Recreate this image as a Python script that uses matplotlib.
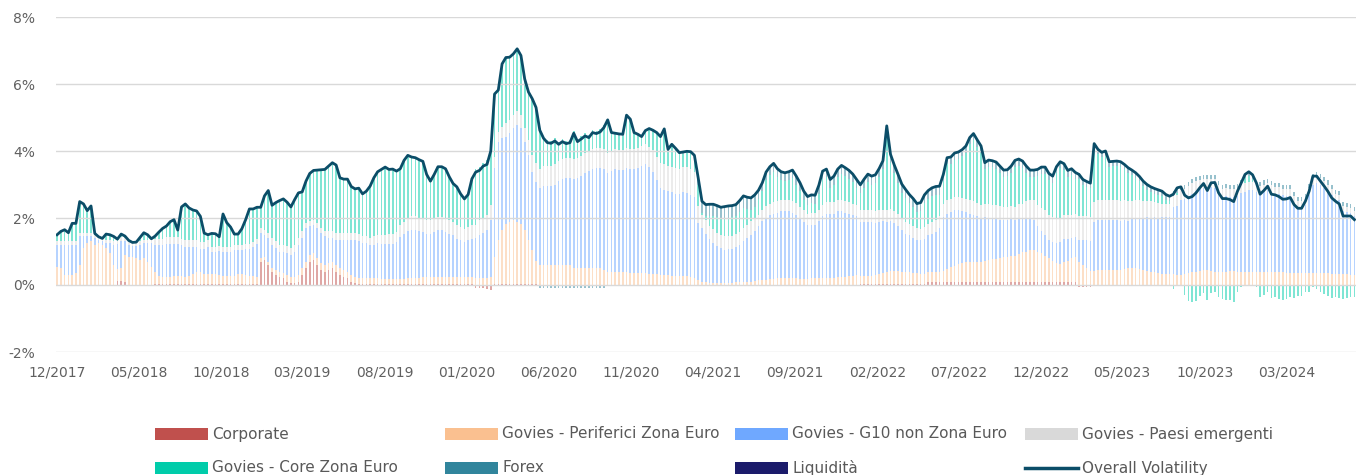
import matplotlib
matplotlib.use("Agg")
import matplotlib.pyplot as plt
import numpy as np
import pandas as pd
from matplotlib.patches import Rectangle
from matplotlib.lines import Line2D

# weekly observations, Dec 2017 -> Jul 2024
dates = pd.date_range("2017-12-01", periods=345, freq="7D")

overall = [
    1.50, 1.60, 1.65, 1.56, 1.84, 1.84, 2.49, 2.42, 2.22, 2.36, 1.54, 1.44, 1.39, 1.52, 1.50,
    1.45, 1.37, 1.52, 1.46, 1.33, 1.27, 1.28, 1.42, 1.56, 1.50, 1.38, 1.46, 1.58, 1.69, 1.76,
    1.89, 1.95, 1.64, 2.33, 2.42, 2.30, 2.24, 2.21, 2.05, 1.55, 1.50, 1.54, 1.53, 1.44, 2.12,
    1.86, 1.73, 1.52, 1.52, 1.68, 1.95, 2.27, 2.27, 2.32, 2.32, 2.66, 2.82, 2.38, 2.46, 2.52,
    2.57, 2.47, 2.33, 2.55, 2.75, 2.78, 3.10, 3.33, 3.42, 3.43, 3.44, 3.45, 3.55, 3.65, 3.58,
    3.20, 3.16, 3.16, 2.94, 2.87, 2.89, 2.72, 2.80, 2.95, 3.20, 3.38, 3.45, 3.52, 3.45, 3.46,
    3.40, 3.47, 3.72, 3.87, 3.82, 3.80, 3.74, 3.69, 3.30, 3.10, 3.30, 3.53, 3.53, 3.47, 3.23,
    3.03, 2.93, 2.72, 2.57, 2.70, 3.17, 3.37, 3.42, 3.55, 3.60, 4.00, 5.70, 5.82, 6.60, 6.79,
    6.80, 6.90, 7.05, 6.85, 6.15, 5.76, 5.56, 5.30, 4.62, 4.38, 4.25, 4.23, 4.30, 4.20, 4.28,
    4.22, 4.25, 4.53, 4.28, 4.36, 4.45, 4.40, 4.55, 4.52, 4.57, 4.70, 4.93, 4.55, 4.53, 4.51,
    4.50, 5.07, 4.95, 4.55, 4.50, 4.43, 4.61, 4.67, 4.62, 4.55, 4.43, 4.66, 4.05, 4.20, 4.08,
    3.95, 3.97, 3.99, 3.98, 3.87, 3.20, 2.50, 2.40, 2.41, 2.41, 2.37, 2.32, 2.34, 2.36, 2.37,
    2.40, 2.52, 2.66, 2.62, 2.60, 2.69, 2.83, 3.05, 3.37, 3.53, 3.63, 3.47, 3.38, 3.35, 3.38,
    3.43, 3.25, 3.05, 2.80, 2.64, 2.69, 2.68, 2.98, 3.40, 3.46, 3.15, 3.25, 3.46, 3.57, 3.50,
    3.42, 3.31, 3.15, 2.99, 3.16, 3.31, 3.25, 3.29, 3.48, 3.71, 4.75, 3.90, 3.58, 3.30, 3.01,
    2.85, 2.70, 2.58, 2.43, 2.46, 2.69, 2.82, 2.90, 2.94, 2.95, 3.30, 3.80, 3.82, 3.94, 3.97,
    4.04, 4.15, 4.40, 4.52, 4.33, 4.15, 3.65, 3.73, 3.71, 3.67, 3.55, 3.43, 3.44, 3.55, 3.72,
    3.76, 3.70, 3.55, 3.43, 3.43, 3.45, 3.52, 3.52, 3.33, 3.25, 3.53, 3.68, 3.62, 3.42, 3.47,
    3.36, 3.30, 3.15, 3.09, 3.04, 4.22, 4.05, 3.96, 4.00, 3.68, 3.69, 3.70, 3.68, 3.60, 3.50,
    3.43, 3.35, 3.24, 3.10, 3.00, 2.93, 2.88, 2.84, 2.80, 2.70, 2.65, 2.71, 2.90, 2.93, 2.68,
    2.60, 2.64, 2.75, 2.90, 3.03, 2.82, 3.05, 3.06, 2.75, 2.58, 2.58, 2.55, 2.49, 2.80, 3.05,
    3.30, 3.38, 3.29, 3.05, 2.71, 2.82, 2.95, 2.71, 2.69, 2.64, 2.56, 2.57, 2.61, 2.40, 2.29,
    2.29, 2.50, 2.80, 3.25, 3.25, 3.10, 2.95, 2.79, 2.60, 2.50, 2.42, 2.06, 2.06, 2.06, 1.95,
]

corporate = [
    0, 0, 0, 0, 0, 0, 0, 0, 0, 0, 0, 0, 0, 0, 0,
    0, 0.12, 0.12, 0.1, 0, 0, 0, 0, 0, 0, 0, 0.03, 0.03, 0.03, 0.03,
    0.03, 0.03, 0.03, 0.03, 0.03, 0.03, 0.03, 0.03, 0.03, 0.03, 0.03, 0.03, 0.03, 0.03, 0.03,
    0.03, 0.03, 0.03, 0.03, 0.03, 0.03, 0.03, 0.03, 0.03, 0.7, 0.75, 0.6, 0.4, 0.3, 0.25,
    0.2, 0.1, 0.05, 0.05, 0.1, 0.3, 0.5, 0.7, 0.75, 0.6, 0.45, 0.4, 0.45, 0.5, 0.4,
    0.3, 0.25, 0.2, 0.1, 0.05, 0.03, 0.03, 0.03, 0.03, 0.03, 0.03, 0.03, 0.03, 0.03, 0.03,
    0.03, 0.03, 0.03, 0.03, 0.03, 0.03, 0.03, 0.03, 0.03, 0.03, 0.03, 0.03, 0.03, 0.03, 0.03,
    0.03, 0.03, 0.03, 0.03, 0.03, 0.03, -0.08, -0.1, -0.1, -0.12, -0.15, 0.03, 0.03, 0.03, 0.03,
    0.03, 0.03, 0.03, 0.03, 0.03, 0.03, 0.03, 0.03, 0, 0, 0, 0, 0, 0, 0,
    0, 0, 0, 0, 0, 0, 0, 0, 0, 0, 0, 0, 0, 0, 0,
    0, 0, 0, 0, 0, 0, 0, 0, 0, 0, 0, 0, 0, 0, 0,
    0, 0, 0, 0, 0, 0, 0, 0, 0, 0, 0, 0, 0, 0, 0,
    0, 0, 0, 0, 0, 0, 0, 0, 0, 0, 0, 0, 0, 0, 0,
    0, 0, 0, 0, 0, 0, 0, 0, 0, 0, 0, 0, 0, 0, 0,
    0, 0, 0, 0.03, 0.03, 0.03, 0.03, 0.03, 0.03, 0.03, 0.03, 0.03, 0.03, 0.03, 0.03,
    0.03, 0.03, 0.03, 0.03, 0.03, 0.03, 0.08, 0.08, 0.08, 0.08, 0.08, 0.08, 0.08, 0.08, 0.08,
    0.08, 0.08, 0.08, 0.08, 0.08, 0.08, 0.08, 0.08, 0.08, 0.08, 0.08, 0.08, 0.08, 0.08, 0.08,
    0.08, 0.08, 0.08, 0.08, 0.08, 0.08, 0.08, 0.08, 0.08, 0.08, 0.08, 0.08, 0.08, 0.08, 0.08,
    0.08, -0.05, -0.05, -0.05, -0.05, 0, 0, 0, 0, 0, 0, 0, 0, 0, 0,
    0, 0, 0, 0, 0, 0, 0, 0, 0, 0, 0, 0, 0, 0, 0,
    0, 0, 0, 0, 0, 0, 0, 0, 0, 0, 0, 0, 0, 0, 0,
    0, 0, 0, 0, 0, 0, 0, 0, 0, 0, 0, 0, 0, 0, 0,
    0, 0, 0, 0, 0, 0, 0, 0, 0, 0, 0, 0, 0, 0, 0,
]

periferici = [
    0.55, 0.5, 0.3, 0.3, 0.3, 0.35, 0.6, 1.1, 1.25, 1.3, 1.2, 1.25, 1.2, 1.1, 0.95,
    0.6, 0.35, 0.4, 0.8, 0.85, 0.85, 0.8, 0.75, 0.8, 0.7, 0.55, 0.35, 0.25, 0.2, 0.2,
    0.2, 0.25, 0.25, 0.25, 0.2, 0.25, 0.3, 0.35, 0.35, 0.3, 0.3, 0.3, 0.3, 0.28, 0.25,
    0.25, 0.25, 0.25, 0.3, 0.3, 0.28, 0.25, 0.25, 0.2, 0.1, 0.1, 0.1, 0.1, 0.15, 0.15,
    0.15, 0.2, 0.2, 0.2, 0.2, 0.2, 0.2, 0.2, 0.2, 0.2, 0.2, 0.2, 0.2, 0.2, 0.2,
    0.2, 0.2, 0.2, 0.2, 0.2, 0.18, 0.18, 0.17, 0.17, 0.17, 0.17, 0.15, 0.15, 0.15, 0.15,
    0.15, 0.15, 0.15, 0.17, 0.17, 0.17, 0.17, 0.2, 0.2, 0.2, 0.2, 0.2, 0.2, 0.2, 0.2,
    0.2, 0.2, 0.2, 0.2, 0.2, 0.2, 0.2, 0.2, 0.2, 0.2, 0.25, 0.8, 1.3, 1.6, 1.8,
    1.85, 1.9, 1.85, 1.8, 1.6, 1.3, 1.0, 0.7, 0.6, 0.6, 0.6, 0.6, 0.6, 0.6, 0.6,
    0.6, 0.6, 0.5, 0.5, 0.5, 0.5, 0.5, 0.5, 0.5, 0.5, 0.45, 0.4, 0.4, 0.4, 0.38,
    0.38, 0.38, 0.36, 0.36, 0.35, 0.35, 0.35, 0.33, 0.33, 0.32, 0.3, 0.3, 0.3, 0.28, 0.28,
    0.27, 0.27, 0.26, 0.25, 0.22, 0.15, 0.1, 0.08, 0.06, 0.06, 0.05, 0.05, 0.05, 0.06, 0.06,
    0.08, 0.08, 0.1, 0.1, 0.1, 0.12, 0.15, 0.15, 0.15, 0.18, 0.18, 0.2, 0.2, 0.2, 0.2,
    0.2, 0.2, 0.18, 0.18, 0.18, 0.2, 0.2, 0.2, 0.2, 0.22, 0.22, 0.22, 0.25, 0.25, 0.25,
    0.28, 0.28, 0.3, 0.25, 0.25, 0.25, 0.25, 0.28, 0.3, 0.32, 0.35, 0.38, 0.38, 0.38, 0.36,
    0.35, 0.35, 0.32, 0.32, 0.3, 0.3, 0.3, 0.3, 0.3, 0.32, 0.35, 0.4, 0.45, 0.5, 0.55,
    0.58, 0.6, 0.6, 0.62, 0.62, 0.62, 0.65, 0.68, 0.7, 0.7, 0.72, 0.75, 0.75, 0.78, 0.8,
    0.85, 0.9, 0.92, 0.95, 0.95, 0.92, 0.88, 0.8, 0.72, 0.65, 0.58, 0.55, 0.6, 0.65, 0.72,
    0.75, 0.7, 0.6, 0.5, 0.42, 0.42, 0.45, 0.45, 0.45, 0.45, 0.45, 0.45, 0.45, 0.48, 0.5,
    0.52, 0.5, 0.48, 0.45, 0.42, 0.4, 0.38, 0.35, 0.33, 0.32, 0.32, 0.32, 0.3, 0.3, 0.32,
    0.35, 0.38, 0.4, 0.42, 0.45, 0.45, 0.42, 0.4, 0.38, 0.38, 0.4, 0.42, 0.42, 0.4, 0.4,
    0.38, 0.38, 0.38, 0.38, 0.4, 0.4, 0.4, 0.38, 0.38, 0.38, 0.38, 0.36, 0.36, 0.36, 0.35,
    0.35, 0.35, 0.35, 0.35, 0.35, 0.35, 0.35, 0.35, 0.33, 0.33, 0.33, 0.32, 0.32, 0.3, 0.3,
]

g10 = [
    0.65, 0.7, 0.9, 0.9, 0.9, 0.85, 0.85, 0.35, 0.2, 0.15, 0.2, 0.1, 0.1, 0.15, 0.3,
    0.6, 0.75, 0.8, 0.4, 0.35, 0.3, 0.35, 0.45, 0.45, 0.55, 0.7, 0.8, 0.9, 0.95, 1.0,
    1.0, 0.95, 0.95, 0.9, 0.9, 0.85, 0.8, 0.75, 0.7, 0.75, 0.8, 0.65, 0.65, 0.7, 0.7,
    0.7, 0.7, 0.75, 0.7, 0.7, 0.75, 0.8, 0.85, 1.0, 0.75, 0.65, 0.7, 0.7, 0.65, 0.6,
    0.65, 0.65, 0.65, 0.75, 0.9, 0.9, 1.0, 0.85, 0.85, 0.9, 0.9, 0.85, 0.75, 0.7, 0.75,
    0.85, 0.9, 0.95, 1.05, 1.1, 1.1, 1.05, 1.05, 1.0, 1.0, 1.05, 1.05, 1.05, 1.05, 1.05,
    1.1, 1.25, 1.35, 1.4, 1.45, 1.45, 1.4, 1.35, 1.3, 1.3, 1.35, 1.4, 1.4, 1.35, 1.3,
    1.25, 1.15, 1.1, 1.05, 1.1, 1.15, 1.2, 1.3, 1.35, 1.45, 1.7, 2.65, 2.95, 2.75, 2.6,
    2.65, 2.75, 2.9, 2.85, 2.65, 2.55, 2.35, 2.35, 2.3, 2.35, 2.35, 2.35, 2.4, 2.5, 2.55,
    2.6, 2.6, 2.65, 2.7, 2.75, 2.85, 2.9, 2.95, 3.0, 3.0, 3.0, 2.95, 3.0, 3.05, 3.05,
    3.05, 3.1, 3.1, 3.1, 3.15, 3.2, 3.25, 3.2, 3.05, 2.8, 2.6, 2.55, 2.5, 2.5, 2.45,
    2.45, 2.5, 2.5, 2.45, 2.4, 1.7, 1.6, 1.45, 1.3, 1.2, 1.1, 1.05, 1.0, 1.0, 1.0,
    1.05, 1.1, 1.2, 1.3, 1.4, 1.5, 1.6, 1.75, 1.85, 1.9, 1.95, 1.95, 2.0, 2.0, 2.0,
    1.95, 1.9, 1.8, 1.7, 1.6, 1.6, 1.6, 1.7, 1.85, 1.9, 1.9, 1.9, 1.95, 1.95, 1.9,
    1.85, 1.8, 1.75, 1.6, 1.6, 1.6, 1.6, 1.55, 1.55, 1.55, 1.5, 1.5, 1.45, 1.35, 1.25,
    1.15, 1.1, 1.05, 1.0, 1.0, 1.05, 1.1, 1.15, 1.2, 1.3, 1.6, 1.65, 1.65, 1.65, 1.6,
    1.55, 1.5, 1.45, 1.4, 1.35, 1.3, 1.3, 1.25, 1.2, 1.2, 1.15, 1.1, 1.1, 1.1, 1.05,
    1.05, 1.0, 1.0, 0.95, 0.9, 0.75, 0.65, 0.6, 0.55, 0.55, 0.6, 0.65, 0.7, 0.65, 0.6,
    0.6, 0.65, 0.75, 0.85, 0.9, 1.45, 1.5, 1.5, 1.5, 1.5, 1.5, 1.5, 1.45, 1.45, 1.4,
    1.45, 1.5, 1.5, 1.55, 1.6, 1.6, 1.65, 1.65, 1.7, 1.7, 1.7, 2.0, 2.05, 2.25, 2.25,
    2.3, 2.35, 2.4, 2.45, 2.45, 2.45, 2.5, 2.5, 2.35, 2.25, 2.25, 2.2, 2.2, 2.25, 2.35,
    2.4, 2.45, 2.45, 2.4, 2.35, 2.4, 2.45, 2.4, 2.35, 2.35, 2.3, 2.3, 2.3, 2.1, 1.95,
    1.95, 2.05, 2.35, 2.65, 2.7, 2.65, 2.55, 2.45, 2.35, 2.25, 2.2, 1.9, 1.85, 1.85, 1.75,
]

emergenti = [
    0.1, 0.1, 0.1, 0.1, 0.1, 0.1, 0.1, 0.1, 0.1, 0.1, 0.1, 0.1, 0.1, 0.1, 0.1,
    0.1, 0.1, 0.1, 0.1, 0.1, 0.1, 0.1, 0.1, 0.1, 0.1, 0.1, 0.2, 0.2, 0.2, 0.2,
    0.2, 0.2, 0.2, 0.2, 0.2, 0.2, 0.2, 0.2, 0.2, 0.2, 0.2, 0.15, 0.15, 0.15, 0.15,
    0.15, 0.15, 0.15, 0.15, 0.15, 0.15, 0.15, 0.15, 0.15, 0.15, 0.15, 0.15, 0.2, 0.2, 0.2,
    0.2, 0.2, 0.2, 0.2, 0.2, 0.2, 0.15, 0.15, 0.15, 0.15, 0.15, 0.15, 0.2, 0.2, 0.2,
    0.2, 0.2, 0.2, 0.2, 0.2, 0.2, 0.2, 0.2, 0.2, 0.25, 0.25, 0.25, 0.25, 0.3, 0.3,
    0.3, 0.35, 0.35, 0.4, 0.4, 0.4, 0.4, 0.4, 0.4, 0.4, 0.4, 0.4, 0.4, 0.4, 0.4,
    0.4, 0.4, 0.4, 0.4, 0.4, 0.4, 0.4, 0.45, 0.45, 0.45, 0.45, 0.35, 0.3, 0.35, 0.4,
    0.4, 0.4, 0.4, 0.4, 0.4, 0.45, 0.5, 0.55, 0.55, 0.6, 0.6, 0.6, 0.6, 0.6, 0.6,
    0.6, 0.6, 0.6, 0.6, 0.6, 0.6, 0.6, 0.6, 0.6, 0.6, 0.6, 0.6, 0.6, 0.6, 0.6,
    0.6, 0.6, 0.6, 0.6, 0.6, 0.6, 0.6, 0.6, 0.65, 0.7, 0.75, 0.75, 0.75, 0.75, 0.75,
    0.75, 0.75, 0.75, 0.75, 0.75, 0.5, 0.4, 0.4, 0.4, 0.4, 0.4, 0.4, 0.4, 0.4, 0.4,
    0.4, 0.4, 0.4, 0.4, 0.4, 0.35, 0.35, 0.35, 0.35, 0.35, 0.35, 0.35, 0.35, 0.35, 0.35,
    0.35, 0.35, 0.35, 0.35, 0.35, 0.35, 0.35, 0.35, 0.35, 0.35, 0.35, 0.35, 0.35, 0.35, 0.35,
    0.35, 0.35, 0.35, 0.35, 0.35, 0.35, 0.35, 0.35, 0.35, 0.35, 0.35, 0.35, 0.35, 0.35, 0.35,
    0.35, 0.35, 0.35, 0.35, 0.35, 0.35, 0.35, 0.35, 0.35, 0.35, 0.4, 0.4, 0.4, 0.4, 0.4,
    0.4, 0.4, 0.4, 0.4, 0.4, 0.4, 0.4, 0.4, 0.4, 0.4, 0.4, 0.4, 0.4, 0.4, 0.4,
    0.45, 0.45, 0.5, 0.55, 0.6, 0.65, 0.7, 0.75, 0.75, 0.75, 0.75, 0.7, 0.7, 0.7, 0.7,
    0.7, 0.7, 0.7, 0.7, 0.7, 0.6, 0.6, 0.6, 0.6, 0.6, 0.6, 0.6, 0.6, 0.6, 0.6,
    0.55, 0.55, 0.55, 0.5, 0.5, 0.5, 0.45, 0.45, 0.4, 0.4, 0.4, 0.35, 0.35, 0.3, 0.3,
    0.3, 0.3, 0.3, 0.25, 0.25, 0.25, 0.25, 0.25, 0.25, 0.25, 0.25, 0.25, 0.25, 0.25, 0.25,
    0.25, 0.25, 0.25, 0.2, 0.2, 0.2, 0.2, 0.2, 0.2, 0.2, 0.2, 0.2, 0.2, 0.2, 0.2,
    0.2, 0.2, 0.2, 0.2, 0.2, 0.2, 0.2, 0.2, 0.2, 0.15, 0.15, 0.15, 0.15, 0.15, 0.15,
]

core = [
    0.20, 0.30, 0.35, 0.26, 0.54, 0.54, 0.94, 0.87, 0.67, 0.81, 0.04, 0.00, 0.00, 0.17, 0.15,
    0.15, 0.05, 0.10, 0.06, 0.03, 0.02, 0.03, 0.12, 0.21, 0.15, 0.03, 0.08, 0.20, 0.31, 0.33,
    0.46, 0.52, 0.21, 0.95, 1.09, 0.97, 0.91, 0.88, 0.77, 0.27, 0.17, 0.41, 0.40, 0.28, 0.99,
    0.73, 0.60, 0.34, 0.34, 0.50, 0.74, 1.04, 0.99, 0.94, 0.62, 1.01, 1.27, 0.98, 1.16, 1.32,
    1.37, 1.32, 1.23, 1.35, 1.35, 1.18, 1.25, 1.43, 1.47, 1.58, 1.74, 1.85, 1.95, 2.05, 2.03,
    1.65, 1.61, 1.61, 1.39, 1.32, 1.38, 1.26, 1.35, 1.55, 1.75, 1.88, 1.97, 2.04, 1.92, 1.93,
    1.82, 1.69, 1.84, 1.87, 1.77, 1.75, 1.74, 1.71, 1.37, 1.17, 1.32, 1.50, 1.50, 1.49, 1.30,
    1.15, 1.15, 0.99, 0.89, 0.97, 1.39, 1.65, 1.57, 1.65, 1.62, 1.75, 1.87, 1.24, 1.87, 1.96,
    1.87, 1.82, 1.87, 1.77, 1.47, 1.43, 1.68, 1.67, 1.25, 0.91, 0.78, 0.76, 0.78, 0.58, 0.61,
    0.50, 0.53, 0.86, 0.56, 0.59, 0.58, 0.48, 0.58, 0.50, 0.55, 0.73, 0.93, 0.50, 0.43, 0.43,
    0.42, 0.94, 0.84, 0.44, 0.35, 0.23, 0.36, 0.49, 0.54, 0.68, 0.73, 1.01, 0.45, 0.62, 0.55,
    0.43, 0.40, 0.43, 0.48, 0.45, 0.65, 0.05, 0.12, 0.30, 0.40, 0.47, 0.47, 0.54, 0.55, 0.56,
    0.52, 0.59, 0.61, 0.47, 0.35, 0.37, 0.48, 0.55, 0.77, 0.85, 0.90, 0.72, 0.58, 0.55, 0.58,
    0.68, 0.55, 0.47, 0.32, 0.26, 0.29, 0.28, 0.48, 0.75, 0.74, 0.43, 0.53, 0.66, 0.77, 0.75,
    0.69, 0.63, 0.50, 0.51, 0.68, 0.83, 0.77, 0.83, 1.00, 1.21, 2.27, 1.39, 1.12, 0.94, 0.77,
    0.72, 0.62, 0.58, 0.48, 0.53, 0.71, 0.74, 0.77, 0.76, 0.65, 0.67, 1.07, 1.04, 1.11, 1.14,
    1.23, 1.37, 1.67, 1.82, 1.68, 1.55, 1.02, 1.12, 1.13, 1.09, 1.00, 0.90, 0.91, 0.99, 1.19,
    1.13, 1.07, 0.85, 0.70, 0.70, 0.85, 1.01, 1.09, 1.03, 1.02, 1.32, 1.50, 1.34, 1.14, 1.17,
    1.03, 1.10, 0.95, 0.89, 0.87, 1.60, 1.35, 1.26, 1.30, 0.98, 0.99, 1.00, 1.03, 0.92, 0.85,
    0.76, 0.65, 0.56, 0.45, 0.33, 0.28, 0.25, 0.24, 0.22, 0.13, 0.08, -0.11, 0.05, -0.04, -0.31,
    -0.47, -0.51, -0.47, -0.34, -0.24, -0.45, -0.24, -0.21, -0.35, -0.42, -0.44, -0.44, -0.50, -0.22, -0.07,
    0.15, 0.18, 0.09, -0.05, -0.36, -0.30, -0.22, -0.39, -0.36, -0.41, -0.44, -0.41, -0.37, -0.38, -0.33,
    -0.33, -0.22, -0.22, -0.07, -0.12, -0.22, -0.27, -0.33, -0.40, -0.35, -0.38, -0.43, -0.38, -0.36, -0.37,
]

forex = [
    0, 0, 0, 0, 0, 0, 0, 0, 0, 0, 0, 0, 0, 0, 0,
    0, 0, 0, 0, 0, 0, 0, 0, 0, 0, 0, 0, 0, 0, 0,
    0, 0, 0, 0, 0, 0, 0, 0, 0, 0, 0, 0, 0, 0, 0,
    0, 0, 0, 0, 0, 0, 0, 0, 0, 0, 0, 0, 0, 0, 0,
    0, 0, 0, 0, 0, 0, 0, 0, 0, 0, 0, 0, 0, 0, 0,
    0, 0, 0, 0, 0, 0, 0, 0, 0, 0, 0, 0, 0, 0, 0,
    0, 0, 0, 0, 0, 0, 0, 0, 0, 0, 0, 0, 0, 0, 0,
    0, 0, 0, 0, 0, 0, 0, 0, 0, 0, 0, 0, 0, 0, 0,
    0, 0, 0, 0, 0, 0, 0, 0, -0.08, -0.08, -0.08, -0.08, -0.08, -0.08, -0.08,
    -0.08, -0.08, -0.08, -0.08, -0.08, -0.08, -0.08, -0.08, -0.08, -0.08, -0.08, 0.05, 0.05, 0.05, 0.05,
    0.05, 0.05, 0.05, 0.05, 0.05, 0.05, 0.05, 0.05, 0.05, 0.05, 0.05, 0.05, 0.05, 0.05, 0.05,
    0.05, 0.05, 0.05, 0.05, 0.05, 0.2, 0.35, 0.35, 0.35, 0.35, 0.35, 0.35, 0.35, 0.35, 0.35,
    0.35, 0.35, 0.35, 0.35, 0.35, 0.35, 0.25, 0.25, 0.25, 0.25, 0.25, 0.25, 0.25, 0.25, 0.25,
    0.25, 0.25, 0.25, 0.25, 0.25, 0.25, 0.25, 0.25, 0.25, 0.25, 0.25, 0.25, 0.25, 0.25, 0.25,
    0.25, 0.25, 0.25, 0.25, 0.25, 0.25, 0.25, 0.25, 0.25, 0.25, 0.25, 0.25, 0.25, 0.25, 0.25,
    0.25, 0.25, 0.25, 0.25, 0.25, 0.25, 0.25, 0.25, 0.25, 0.25, 0.2, 0.2, 0.2, 0.2, 0.2,
    0.2, 0.2, 0.2, 0.2, 0.2, 0.2, 0.2, 0.2, 0.2, 0.2, 0.2, 0.2, 0.2, 0.2, 0.2,
    0.2, 0.2, 0.2, 0.2, 0.2, 0.2, 0.2, 0.2, 0.2, 0.2, 0.2, 0.2, 0.2, 0.2, 0.2,
    0.2, 0.2, 0.2, 0.2, 0.2, 0.15, 0.15, 0.15, 0.15, 0.15, 0.15, 0.15, 0.15, 0.15, 0.15,
    0.15, 0.15, 0.15, 0.15, 0.15, 0.15, 0.15, 0.15, 0.15, 0.15, 0.15, 0.15, 0.15, 0.12, 0.12,
    0.12, 0.12, 0.12, 0.12, 0.12, 0.12, 0.12, 0.12, 0.12, 0.12, 0.12, 0.12, 0.12, 0.12, 0.12,
    0.12, 0.12, 0.12, 0.12, 0.12, 0.12, 0.12, 0.12, 0.12, 0.12, 0.12, 0.12, 0.12, 0.12, 0.12,
    0.12, 0.12, 0.12, 0.12, 0.12, 0.12, 0.12, 0.12, 0.12, 0.12, 0.12, 0.12, 0.12, 0.12, 0.12,
]

# no visible liquidity contribution in the chart
liquidita = np.zeros(len(dates))

series = [
    ("Corporate", corporate, "#c0504d"),
    ("Govies - Periferici Zona Euro", periferici, "#fac090"),
    ("Govies - G10 non Zona Euro", g10, "#6fa8ff"),
    ("Govies - Paesi emergenti", emergenti, "#d9d9d9"),
    ("Govies - Core Zona Euro", core, "#00ccaa"),
    ("Forex", forex, "#31859c"),
    ("Liquidità", liquidita, "#1b1b6b"),
]
line_color = "#0b4d68"

W, H = 1356, 475
fig = plt.figure(figsize=(W / 100, H / 100), dpi=100)
ax = fig.add_axes([56 / W, 1 - 352 / H, 1300 / W, 335 / H])

pos_base = np.zeros(len(dates))
neg_base = np.zeros(len(dates))
for name, vals, color in series:
    v = np.asarray(vals, dtype=float)
    bottom = np.where(v >= 0, pos_base, neg_base)
    ax.bar(dates, v, bottom=bottom, width=3.0, color=color, alpha=0.5,
           linewidth=0, zorder=2)
    pos_base += np.clip(v, 0, None)
    neg_base += np.clip(v, None, 0)

ax.plot(dates, overall, color=line_color, lw=2.0, zorder=5, solid_joinstyle="round")

ax.set_ylim(-2, 8)
ax.set_yticks([-2, 0, 2, 4, 6, 8])
ax.set_yticklabels([f"{t}%" for t in [-2, 0, 2, 4, 6, 8]])
ax.set_xlim(dates[0] - pd.Timedelta(days=2), dates[-1] + pd.Timedelta(days=3))
ticks = pd.date_range("2017-12-01", periods=16, freq="5MS")
ax.set_xticks(ticks)
ax.set_xticklabels([t.strftime("%m/%Y") for t in ticks])

ax.grid(axis="y", color="#d9d9d9", lw=1, zorder=3)
ax.set_axisbelow(False)
for s in ax.spines.values():
    s.set_visible(False)
ax.tick_params(length=0, colors="#606060", labelsize=10)
ax.tick_params(axis="y", pad=15)
ax.tick_params(axis="x", pad=10)

# legend laid out in a fixed 4-column grid like the original
for i, (name, vals, color) in enumerate(series + [("Overall Volatility", overall, line_color)]):
    col, row = i % 4, i // 4
    x0 = 155 + 290 * col
    yc = 434 + 34 * row
    if name == "Overall Volatility":
        fig.add_artist(Line2D([x0 / W, (x0 + 53) / W], [1 - yc / H] * 2,
                              color=color, lw=2.5, transform=fig.transFigure))
    else:
        fig.add_artist(Rectangle((x0 / W, 1 - (yc + 6) / H), 53 / W, 12 / H,
                                 color=color, transform=fig.transFigure, lw=0))
    fig.text((x0 + 57) / W, 1 - yc / H, name, fontsize=11, color="#595959",
             va="center", ha="left")

fig.savefig("out.png", dpi=100)
